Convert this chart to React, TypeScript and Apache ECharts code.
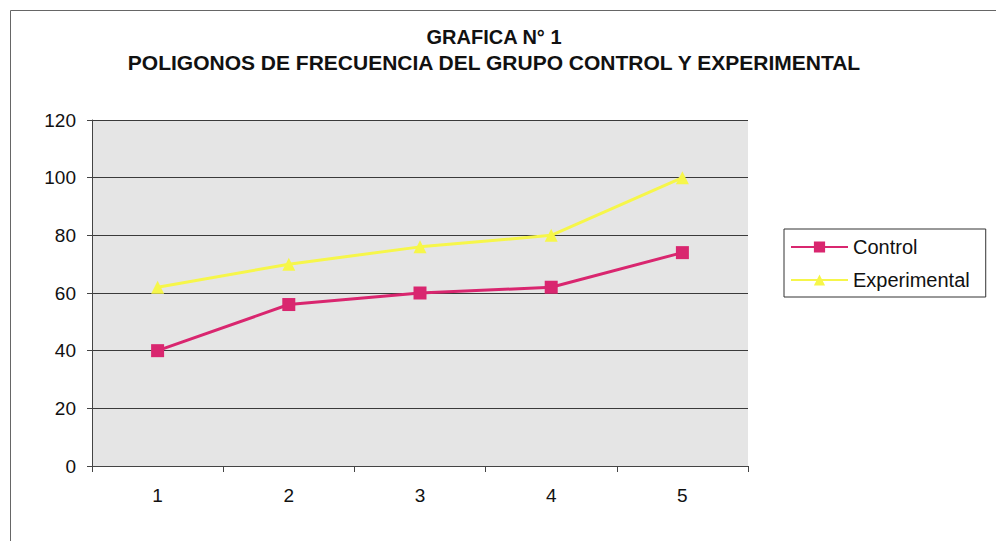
import React, { useEffect, useRef } from "react";
import * as echarts from "echarts";

const categories = ["1", "2", "3", "4", "5"];
const controlValues = [40, 56, 60, 62, 74];
const experimentalValues = [62, 70, 76, 80, 100];
const titleLine1 = "GRAFICA N° 1";
const titleLine2 = "POLIGONOS DE FRECUENCIA DEL GRUPO CONTROL Y EXPERIMENTAL";
const seriesNames = ["Control", "Experimental"];

export default function App() {
  const ref = useRef<HTMLDivElement>(null);
  useEffect(() => {
    if (!ref.current) return;
    const chart = echarts.init(ref.current, null, { renderer: "svg" });
    const font = "Liberation Sans, Arial, sans-serif";
    chart.setOption({
      animation: false,
      backgroundColor: "#ffffff",
      title: [
        {
          text: titleLine1,
          left: 486,
          top: 19,
          padding: 0,
          textAlign: "center",
          textStyle: { fontFamily: font, fontSize: 20, fontWeight: "bold", color: "#111" },
        },
        {
          text: titleLine2,
          left: 486,
          top: 44,
          padding: 0,
          textAlign: "center",
          textStyle: { fontFamily: font, fontSize: 21, fontWeight: "bold", color: "#111" },
        },
      ],
      graphic: [
        {
          type: "rect",
          shape: { x: 0.5, y: 0.5, width: 989, height: 532 },
          left: 0,
          top: 0,
          style: { fill: "none", stroke: "#666", lineWidth: 1 },
          silent: true,
          z: -1,
        },
      ],
      legend: {
        orient: "vertical",
        left: 776,
        top: 221,
        data: seriesNames,
        itemWidth: 57,
        itemHeight: 14,
        itemGap: 13,
        padding: [8, 16, 7, 6],
        borderColor: "#333",
        borderWidth: 1,
        borderRadius: 0,
        textStyle: { fontFamily: font, fontSize: 20, color: "#111", padding: [0, 0, 0, 0] },
      },
      grid: {
        left: 84,
        top: 112,
        width: 656,
        height: 346,
        show: true,
        backgroundColor: "#e5e5e5",
        borderWidth: 0,
      },
      xAxis: {
        type: "category",
        data: categories,
        boundaryGap: true,
        axisLine: { show: true, lineStyle: { color: "#444", width: 1 } },
        axisTick: { show: true, length: 6, inside: false, lineStyle: { color: "#444" } },
        axisLabel: { fontFamily: font, fontSize: 19, color: "#111", margin: 20 },
        splitLine: { show: false },
      },
      yAxis: {
        type: "value",
        min: 0,
        max: 120,
        interval: 20,
        axisLine: { show: true, lineStyle: { color: "#444", width: 1 } },
        axisTick: { show: true, length: 5, lineStyle: { color: "#444" } },
        axisLabel: { fontFamily: font, fontSize: 19, color: "#111", margin: 16 },
        splitLine: { show: true, lineStyle: { color: "#3a3a3a", width: 1 } },
      },
      series: [
        {
          name: seriesNames[0],
          type: "line",
          data: controlValues,
          symbol: "rect",
          symbolSize: 13,
          lineStyle: { color: "#d9266f", width: 3 },
          itemStyle: { color: "#d9266f" },
          z: 3,
        },
        {
          name: seriesNames[1],
          type: "line",
          data: experimentalValues,
          symbol: "triangle",
          symbolSize: 13,
          lineStyle: { color: "#f6f64a", width: 3 },
          itemStyle: { color: "#f6f64a" },
          z: 2,
        },
      ],
    });
    return () => chart.dispose();
  }, []);
  return <div ref={ref} style={{ width: 990, height: 533 }} />;
}
